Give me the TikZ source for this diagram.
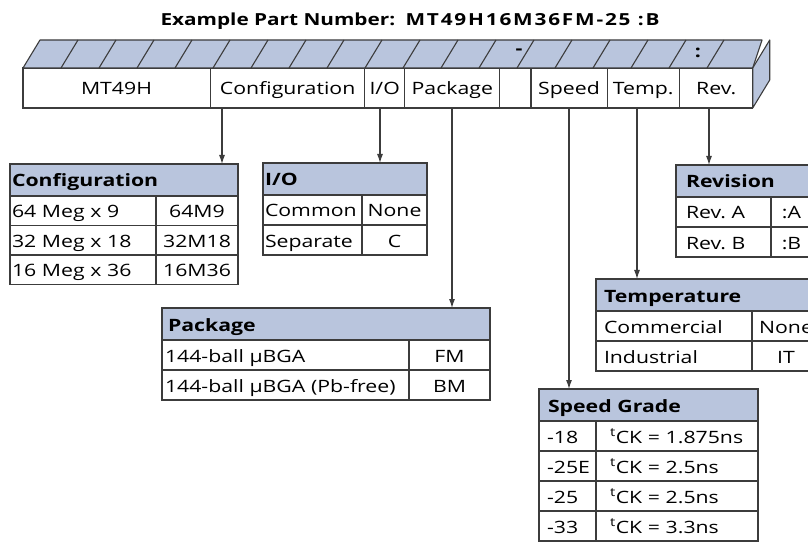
\documentclass[tikz,border=0pt]{standalone}
\usepackage{fontspec}
\setmainfont{Open Sans}[FakeStretch=1.25]
\usetikzlibrary{positioning, shapes.multipart, arrows.meta}

\definecolor{headblue}{RGB}{185,197,221}
\definecolor{edge}{RGB}{60,60,60}

\newcommand{\cellfont}{\fontsize{17bp}{20bp}\selectfont}
\newcommand{\headfont}{\cellfont\bfseries}
\newcommand{\partcell}[2]{\makebox[#1]{\rule[-13bp]{0pt}{40bp}#2}}
\frenchspacing

\begin{document}
\begin{tikzpicture}[
  x=1bp, y=-1bp,
  font=\cellfont,
  line width=1.1bp,
  banner/.style={
    draw=edge,
    fill=white,
    rectangle split,
    rectangle split horizontal,
    rectangle split parts=#1,
    inner sep=0pt,
    outer sep=0pt
    },
  thbox/.style={draw=edge, fill=headblue, outer sep=0pt, inner ysep=0pt,
    minimum height=32bp, text height=15bp, text depth=1bp,
    align=left, font=\headfont},
  tdbox/.style={draw=edge, fill=white, outer sep=0pt, inner ysep=0pt,
    minimum height=30bp, text height=15bp, text depth=1bp},
  tdleft/.style={tdbox, align=left, text width=#1},
  pointer/.style={draw=edge, -{Latex[length=9bp,width=6bp]}}
]
\useasboundingbox (0,0) rectangle (808,542);
\clip (0,0) rectangle (808,542);

% title
\node[anchor=base west, inner sep=0pt, font=\fontsize{16.6bp}{20bp}\selectfont\bfseries] (title) at (160,26) {Example Part Number:};
\node[anchor=base west, inner sep=0pt, font=\fontsize{16.6bp}{20bp}\selectfont\bfseries\addfontfeature{LetterSpace=11}] (partno) at (405,26) {MT49H16M36FM-25 :B};

% part number bar
\node[banner=8, anchor=north west] (front) at (23,68)
  {
  \nodepart{one}\partcell{187bp}{MT49H}
  \nodepart{two}\partcell{153bp}{Configuration}
  \nodepart{three}\partcell{39bp}{I/O}
  \nodepart{four}\partcell{94bp}{Package}
  \nodepart{five}\partcell{30bp}{}
  \nodepart{six}\partcell{75bp}{Speed}
  \nodepart{seven}\partcell{71bp}{Temp.}
  \nodepart{eight}\partcell{73bp}{Rev.}
  };
\filldraw[fill=headblue, draw=edge, line join=round]
  (front.north west) -- ++(17,-28) -- ++(722,0) -- (front.north east) -- cycle;
\filldraw[fill=headblue, draw=edge, line join=round]
  (front.north east) -- ++(17,-28) -- ++(0,40) -- (front.south east) -- cycle;
\foreach \k in {1,...,18}
  \draw[edge] ({23+38*\k},68) -- ++(17,-28);
\node[font=\headfont] (dashmark) at (519,52) {-};
\node[font=\headfont] (colonmark) at (698,53) {:};

% configuration
\node[thbox, anchor=north west, inner xsep=2bp, text width=224bp] (cfg) at (10,164) {Configuration};
\node[tdleft=142bp, inner xsep=2bp, minimum height=29.5bp, below right=0pt of cfg.south west] (cfgA) {64 Meg x 9};
\node[tdbox, minimum width=82bp, minimum height=29.5bp, right=0pt of cfgA] (cfgAv) {64M9};
\node[tdleft=142bp, inner xsep=2bp, minimum height=29.5bp, below=0pt of cfgA] (cfgB) {32 Meg x 18};
\node[tdbox, minimum width=82bp, minimum height=29.5bp, right=0pt of cfgB] (cfgBv) {32M18};
\node[tdleft=142bp, inner xsep=2bp, minimum height=29.5bp, below=0pt of cfgB] (cfgC) {16 Meg x 36};
\node[tdbox, minimum width=82bp, minimum height=29.5bp, right=0pt of cfgC] (cfgCv) {16M36};

% I/O
\node[thbox, anchor=north west, inner xsep=2bp, text width=160bp] (io) at (263,163) {I/O};
\node[tdleft=95bp, inner xsep=2bp, below right=0pt of io.south west] (ioA) {Common};
\node[tdbox, minimum width=65bp, right=0pt of ioA] (ioAv) {None};
\node[tdleft=95bp, inner xsep=2bp, below=0pt of ioA] (ioB) {Separate};
\node[tdbox, minimum width=65bp, right=0pt of ioB] (ioBv) {C};

% package
\node[thbox, anchor=north west, inner xsep=6bp, text width=316bp] (pkg) at (162,308) {Package};
\node[tdleft=241bp, inner xsep=3bp, below right=0pt of pkg.south west] (pkgA) {144-ball µBGA};
\node[tdbox, minimum width=81bp, right=0pt of pkgA] (pkgAv) {FM};
\node[tdleft=241bp, inner xsep=3bp, below=0pt of pkgA] (pkgB) {144-ball µBGA (Pb-free)};
\node[tdbox, minimum width=81bp, right=0pt of pkgB] (pkgBv) {BM};

% speed grade
\node[thbox, anchor=north west, inner xsep=9bp, text width=201bp] (spd) at (539,389) {Speed Grade};
\node[tdleft=41bp, inner xsep=8bp, below right=0pt of spd.south west] (spdA) {\mbox{-18}};
\node[tdleft=134bp, inner xsep=14bp, right=0pt of spdA] (spdAv) {\textsuperscript{t}CK = 1.875ns};
\node[tdleft=41bp, inner xsep=8bp, below=0pt of spdA] (spdB) {\mbox{-25E}};
\node[tdleft=134bp, inner xsep=14bp, right=0pt of spdB] (spdBv) {\textsuperscript{t}CK = 2.5ns};
\node[tdleft=41bp, inner xsep=8bp, below=0pt of spdB] (spdC) {\mbox{-25}};
\node[tdleft=134bp, inner xsep=14bp, right=0pt of spdC] (spdCv) {\textsuperscript{t}CK = 2.5ns};
\node[tdleft=41bp, inner xsep=8bp, below=0pt of spdC] (spdD) {\mbox{-33}};
\node[tdleft=134bp, inner xsep=14bp, right=0pt of spdD] (spdDv) {\textsuperscript{t}CK = 3.3ns};

% temperature
\node[thbox, anchor=north west, inner xsep=8bp, text width=208bp] (tmp) at (596,279) {Temperature};
\node[tdleft=140bp, inner xsep=8bp, below right=0pt of tmp.south west] (tmpA) {Commercial};
\node[tdbox, minimum width=68bp, right=0pt of tmpA] (tmpAv) {None};
\node[tdleft=140bp, inner xsep=8bp, below=0pt of tmpA] (tmpB) {Industrial};
\node[tdbox, minimum width=68bp, right=0pt of tmpB] (tmpBv) {IT};

% revision
\node[thbox, anchor=north west, inner xsep=10bp, text width=116bp] (rev) at (676,165) {Revision};
\node[tdleft=75bp, inner xsep=10bp, below right=0pt of rev.south west] (revA) {Rev. A};
\node[tdbox, minimum width=41bp, right=0pt of revA] (revAv) {:A};
\node[tdleft=75bp, inner xsep=10bp, below=0pt of revA] (revB) {Rev. B};
\node[tdbox, minimum width=41bp, right=0pt of revB] (revBv) {:B};

% pointers
\coordinate (cfgTap) at (222,0);
\coordinate (ioTap) at (380,0);
\coordinate (pkgTap) at (452,0);
\coordinate (spdTap) at (569,0);
\coordinate (tmpTap) at (637,0);
\coordinate (revTap) at (709,0);
\draw[pointer] (cfgTap |- front.south) -- (cfgTap |- cfg.north);
\draw[pointer] (ioTap |- front.south) -- (ioTap |- io.north);
\draw[pointer] (pkgTap |- front.south) -- (pkgTap |- pkg.north);
\draw[pointer] (spdTap |- front.south) -- (spdTap |- spd.north);
\draw[pointer] (tmpTap |- front.south) -- (tmpTap |- tmp.north);
\draw[pointer] (revTap |- front.south) -- (revTap |- rev.north);

\end{tikzpicture}
\end{document}
